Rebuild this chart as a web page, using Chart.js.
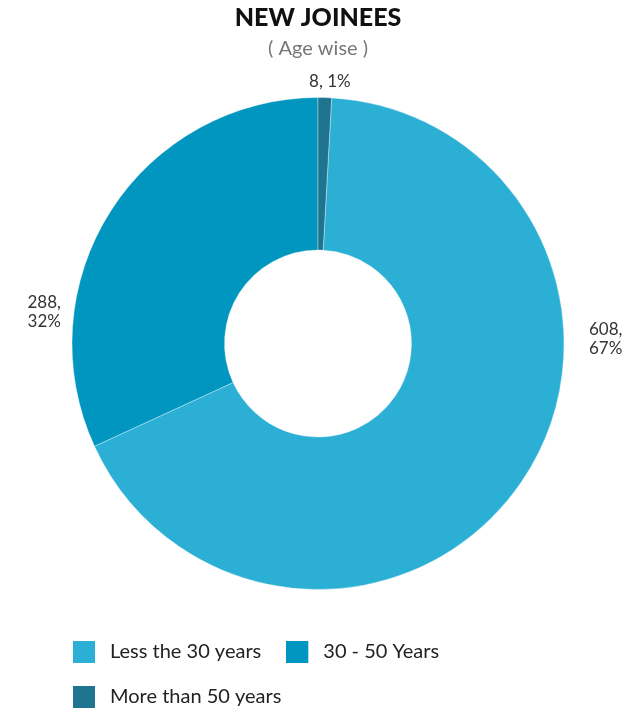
<!DOCTYPE html>
<html>
<head>
<meta charset="utf-8">
<script src="https://cdn.jsdelivr.net/npm/chart.js@4"></script>
<style>
  html, body { margin: 0; padding: 0; background: #ffffff; }
  #wrap { width: 627px; height: 710px; }
</style>
</head>
<body>
<div id="wrap"><canvas id="chart" width="627" height="710"></canvas></div>
<script>
// Headcount of new joinees by age group
const categories = ['Less the 30 years', '30 - 50 Years', 'More than 50 years'];
const joinees = [608, 288, 8];
const percents = [67, 32, 1];
const sliceColors = ['#2BAFD4', '#0096C0', '#1F758F'];

// Start angle so the smallest slice sits just right of 12 o'clock
const total = joinees.reduce((a, b) => a + b, 0);
const startRotation = joinees[2] / total * 360;

// Legend swatch: 22px square on the left of a 27px-wide image
function swatch(color) {
  const c = document.createElement('canvas');
  c.width = 27; c.height = 22;
  const g = c.getContext('2d');
  g.fillStyle = color;
  g.fillRect(0, 0, 22, 22);
  return c;
}

// Draws "value, pct%" labels outside the ring
const outsideLabels = {
  id: 'outsideLabels',
  afterDatasetsDraw(chart, args, opts) {
    const { ctx } = chart;
    const meta = chart.getDatasetMeta(0);
    ctx.save();
    ctx.font = opts.font;
    ctx.fillStyle = opts.color;
    ctx.textBaseline = 'middle';
    meta.data.forEach((arc, i) => {
      const lines = opts.lines[i];
      const rad = opts.angles[i] * Math.PI / 180;
      const r = arc.outerRadius + opts.offsets[i];
      const x = arc.x + r * Math.sin(rad);
      const y = arc.y - r * Math.cos(rad);
      const s = Math.sin(rad);
      ctx.textAlign = s > 0.3 ? 'left' : (s < -0.3 ? 'right' : 'center');
      const lh = opts.lineHeight;
      const y0 = y - (lines.length - 1) * lh / 2;
      lines.forEach((t, k) => ctx.fillText(t, x, y0 + k * lh));
    });
    ctx.restore();
  }
};

new Chart(document.getElementById('chart'), {
  type: 'doughnut',
  data: {
    labels: categories,
    datasets: [{
      data: joinees,
      backgroundColor: sliceColors,
      borderColor: 'rgba(255,255,255,0.35)',
      borderWidth: 1,
      radius: 246,
      hoverOffset: 0
    }]
  },
  plugins: [outsideLabels],
  options: {
    responsive: false,
    animation: false,
    rotation: startRotation,
    cutout: '38%',
    layout: { padding: { left: 48, right: 39, top: 0, bottom: -7 } },
    plugins: {
      title: {
        display: true,
        text: 'NEW JOINEES',
        color: '#111111',
        font: { family: 'Lato', size: 25, weight: '900', lineHeight: 1.1 },
        padding: { top: 4, bottom: 4 }
      },
      subtitle: {
        display: true,
        text: '( Age wise )',
        color: '#777777',
        font: { family: 'Lato', size: 20, weight: '400', lineHeight: 1.1 },
        padding: { top: 2, bottom: 10.5 }
      },
      legend: {
        position: 'bottom',
        align: 'start',
        labels: {
          usePointStyle: true,
          pointStyleWidth: 27,
          padding: 25,
          color: '#222222',
          font: { family: 'Lato', size: 20 },
          generateLabels(chart) {
            const items = Chart.overrides.doughnut.plugins.legend.labels.generateLabels(chart);
            items.forEach((it, i) => { it.pointStyle = swatch(sliceColors[i]); });
            return items;
          }
        }
      },
      tooltip: { enabled: false },
      outsideLabels: {
        font: '17px Lato',
        color: '#333333',
        lineHeight: 19,
        lines: [
          [joinees[0] + ',', percents[0] + '%'],
          [joinees[1] + ',', percents[1] + '%'],
          [joinees[2] + ', ' + percents[2] + '%']
        ],
        angles: [89, 277, 2.6],
        offsets: [25, 13, 16]
      }
    }
  }
});
</script>
</body>
</html>
